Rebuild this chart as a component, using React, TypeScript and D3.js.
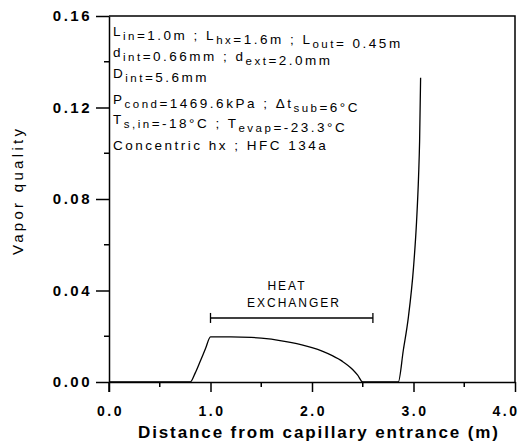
import React, { useEffect, useRef } from 'react';
import * as d3 from 'd3';

// Distance from capillary entrance (m) and vapor quality
const distance = [0, 0.8, 0.85, 0.9, 0.95, 1.0, 1.2, 1.4, 1.5, 1.6, 1.7, 1.8, 1.9, 2.0, 2.1, 2.2, 2.3, 2.4, 2.45, 2.5, 2.85, 2.9, 2.95, 3.0, 3.03, 3.05, 3.06, 3.07];
const quality = [0, 0, 0.004, 0.0092, 0.0145, 0.0197, 0.0197, 0.0195, 0.0192, 0.0187, 0.018, 0.0172, 0.0162, 0.015, 0.0135, 0.0115, 0.009, 0.0055, 0.003, 0, 0, 0.014, 0.0285, 0.05, 0.07, 0.09, 0.105, 0.133];

const xTicks = [0, 1, 2, 3, 4];
const xMinor = [0.5, 1.5, 2.5, 3.5];
const yTicks = [0, 0.04, 0.08, 0.12, 0.16];
const yMinor = [0.02, 0.06, 0.1, 0.14];

// heat exchanger span (L_in to L_in + L_hx) and where its bar sits
const hxSpan = [1.0, 2.6];
const hxLevel = 0.028;
const hxLabel = ['HEAT', 'EXCHANGER'];

// parameter box: each line is a list of [text, isSubscript]
const notes: [string, boolean][][] = [
  [['L', false], ['in', true], ['=1.0m ; L', false], ['hx', true], ['=1.6m ; L', false], ['out', true], ['= 0.45m', false]],
  [['d', false], ['int', true], ['=0.66mm ; d', false], ['ext', true], ['=2.0mm', false]],
  [['D', false], ['int', true], ['=5.6mm', false]],
  [['P', false], ['cond', true], ['=1469.6kPa ; Δt', false], ['sub', true], ['=6°C', false]],
  [['T', false], ['s,in', true], ['=-18°C ; T', false], ['evap', true], ['=-23.3°C', false]],
  [['Concentric hx ; HFC 134a', false]],
];
const noteBaselines = [36, 57, 78, 104, 124, 150];

const FONT = '"Liberation Sans", Arial, Helvetica, sans-serif';

const App = () => {
  const svgRef = useRef<SVGSVGElement>(null);

  const width = 521;
  const height = 447;
  const margin = { top: 16, right: 6, bottom: 65, left: 109 };

  useEffect(() => {
    const root = d3.select(svgRef.current);
    root.selectAll('*').remove();

    const x = d3.scaleLinear().domain([0, 4]).range([margin.left, width - margin.right]);
    const y = d3.scaleLinear().domain([0, 0.16]).range([height - margin.bottom, margin.top]);

    const svg = root.append('g').attr('font-family', FONT).attr('fill', '#000');

    // frame: top and right edges
    svg.append('path')
      .attr('d', `M${x(0)},${y(0.16)}H${x(4)}V${y(0)}`)
      .attr('fill', 'none').attr('stroke', '#000').attr('stroke-width', 1.5);

    // x axis
    const gx = svg.append('g').attr('transform', `translate(0,${y(0)})`)
      .call(d3.axisBottom(x).tickValues(xTicks).tickSize(10).tickSizeOuter(0).tickPadding(14)
        .tickFormat((d) => d3.format('.1f')(d as number)));
    gx.selectAll('.tick line').attr('stroke-width', 1.5);
    gx.select('.domain').attr('stroke-width', 1.5);
    gx.selectAll('.tick text')
      .attr('font-family', FONT).attr('font-size', 14).attr('font-weight', 'bold')
      .attr('letter-spacing', 2.5).attr('dx', 1);
    // last label is pulled in from the right edge
    gx.selectAll<SVGTextElement, number>('.tick text')
      .filter((d) => d === 4)
      .attr('text-anchor', 'end').attr('dx', 4);
    gx.selectAll('.minor').data(xMinor).enter().append('line')
      .attr('x1', (d) => x(d)).attr('x2', (d) => x(d)).attr('y1', 0).attr('y2', 5)
      .attr('stroke', '#000').attr('stroke-width', 1.5);

    // y axis
    const gy = svg.append('g').attr('transform', `translate(${x(0)},0)`)
      .call(d3.axisLeft(y).tickValues(yTicks).tickSize(13).tickSizeOuter(0).tickPadding(4)
        .tickFormat((d) => d3.format('.2f')(d as number)));
    gy.selectAll('.tick line').attr('stroke-width', 1.5);
    gy.select('.domain').attr('stroke-width', 1.5);
    gy.selectAll('.tick text')
      .attr('font-family', FONT).attr('font-size', 15).attr('font-weight', 'bold')
      .attr('letter-spacing', 2.5);
    gy.selectAll('.minor').data(yMinor).enter().append('line')
      .attr('x1', -5).attr('x2', 0).attr('y1', (d) => y(d)).attr('y2', (d) => y(d))
      .attr('stroke', '#000').attr('stroke-width', 1.5);
    // y axis continues a little below the origin
    gy.append('line').attr('x1', 0).attr('x2', 0).attr('y1', y(0)).attr('y2', y(0) + 10)
      .attr('stroke', '#000').attr('stroke-width', 1.5);

    // axis titles
    svg.append('text')
      .attr('x', 318).attr('y', 438)
      .attr('text-anchor', 'middle')
      .attr('font-size', 17).attr('font-weight', 'bold')
      .attr('textLength', 360).attr('lengthAdjust', 'spacing')
      .text('Distance from capillary entrance (m)');

    svg.append('text')
      .attr('transform', 'translate(23,192) rotate(-90)')
      .attr('text-anchor', 'middle')
      .attr('font-size', 15)
      .attr('textLength', 126).attr('lengthAdjust', 'spacing')
      .text('Vapor quality');

    // vapor quality curve
    const line = d3.line<number>()
      .x((d, i) => x(distance[i]))
      .y((d) => y(d))
      .curve(d3.curveMonotoneX);
    svg.append('path')
      .datum(quality)
      .attr('d', line)
      .attr('fill', 'none').attr('stroke', '#000').attr('stroke-width', 1.3);

    // heat exchanger span marker
    const hy = y(hxLevel);
    svg.append('line')
      .attr('x1', x(hxSpan[0])).attr('x2', x(hxSpan[1])).attr('y1', hy).attr('y2', hy)
      .attr('stroke', '#000').attr('stroke-width', 1.5);
    svg.selectAll('.cap').data(hxSpan).enter().append('line')
      .attr('x1', (d) => x(d)).attr('x2', (d) => x(d)).attr('y1', hy - 5).attr('y2', hy + 5)
      .attr('stroke', '#000').attr('stroke-width', 1.3);
    svg.selectAll('.hxlabel').data(hxLabel).enter().append('text')
      .attr('x', (d, i) => (i === 0 ? 287 : 294)).attr('y', (d, i) => 290 + i * 17)
      .attr('text-anchor', 'middle')
      .attr('font-size', 12).attr('letter-spacing', 2)
      .text((d) => d);

    // parameter notes
    notes.forEach((parts, i) => {
      const t = svg.append('text')
        .attr('x', 113).attr('y', noteBaselines[i])
        .attr('font-size', 13.5).attr('letter-spacing', 2.5);
      parts.forEach(([s, sub]) => {
        t.append('tspan')
          .attr('font-size', sub ? 11.5 : 13.5)
          .attr('dy', sub ? 4 : 0)
          .text(s);
        if (sub) t.append('tspan').attr('dy', -4).text('');
      });
    });
  }, []);

  return (
    <div style={{ position: 'absolute', left: 0, top: 0, background: '#fff' }}>
      <svg ref={svgRef} width={width} height={height} style={{ display: 'block' }}></svg>
    </div>
  );
};

export default App;
